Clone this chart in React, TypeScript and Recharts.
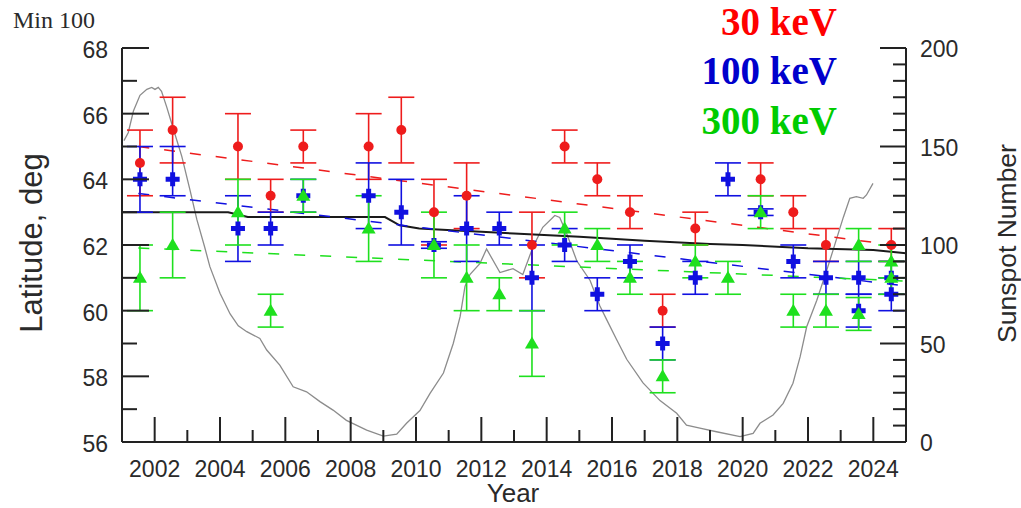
import React from "react";
import { ComposedChart, Line, Scatter, ErrorBar, XAxis, YAxis } from "recharts";

// yearly averages are plotted a bit past the start of each year
const MID = 0.55;

// ---- 30 keV ----
const years30 = [2001, 2002, 2004, 2005, 2006, 2008, 2009, 2010, 2011, 2013, 2014, 2015, 2016, 2017, 2018, 2020, 2021, 2022, 2024];
const lat30 = [64.5, 65.5, 65, 63.5, 65, 65, 65.5, 63, 63.5, 62, 65, 64, 63, 60, 62.5, 64, 63, 62, 62];
const err30 = [1, 1, 1, 0.5, 0.5, 1, 1, 1, 1, 1, 0.5, 0.5, 0.5, 0.5, 0.5, 0.5, 0.5, 0.5, 0.5];

// ---- 100 keV ----
const years100 = [2001, 2002, 2004, 2005, 2006, 2008, 2009, 2010, 2011, 2012, 2013, 2014, 2015, 2016, 2017, 2018, 2019, 2020, 2021, 2022, 2023, 2023, 2024, 2024];
const lat100 = [64, 64, 62.5, 62.5, 63.5, 63.5, 63, 62, 62.5, 62.5, 61, 62, 60.5, 61.5, 59, 61, 64, 63, 61.5, 61, 61, 60, 61, 60.5];
const err100: (number | number[])[] = [1, [0.5, 1], 1, 0.5, 0.5, 1, 1, 0.1, 1, 0.5, 1, 0.5, 0.5, 0.5, 0.5, 0.5, 0.5, 0.1, 0.5, 0.5, 0.5, 0.5, 0.5, 0.5];

// ---- 300 keV ----
const years300 = [2001, 2002, 2004, 2005, 2006, 2008, 2010, 2011, 2012, 2013, 2014, 2015, 2016, 2017, 2018, 2019, 2020, 2021, 2022, 2023, 2023, 2024, 2024];
const lat300 = [61, 62, 63, 60, 63.5, 62.5, 62, 61, 60.5, 59, 62.5, 62, 61, 58, 61.5, 61, 63, 60, 60, 62, 59.9, 61.5, 61];
const err300 = [1, 1, 1, 0.5, 0.5, 1, 1, 1, 0.5, 1, 0.5, 0.5, 0.5, 0.5, 0.5, 0.5, 0.5, 0.5, 0.5, 0.5, 0.5, 0.5, 0.5];

// linear trends (dashed)
const trendYears = [2001.5, 2025];
const trend30 = [65.0, 61.95];
const trend100 = [63.57, 60.75];
const trend300 = [61.91, 60.9];

// solid black mean line
const meanYears = [2001, 2004.25, 2004.85, 2009.05, 2009.5, 2010.1, 2011.1, 2012, 2013, 2015, 2017, 2019, 2020, 2022, 2024, 2025];
const meanLat = [63.0, 63.0, 62.85, 62.85, 62.6, 62.5, 62.45, 62.4, 62.35, 62.25, 62.13, 62.03, 62.0, 61.9, 61.85, 61.75];

// smoothed sunspot number (right axis)
const sunYears = [
  2001.06, 2001.19, 2001.35, 2001.55, 2001.76, 2001.91, 2002.01, 2002.11, 2002.21, 2002.37,
  2002.57, 2002.83, 2003.08, 2003.29, 2003.53, 2003.69, 2004.0, 2004.31, 2004.56, 2004.82,
  2005.22, 2005.43, 2005.83, 2006.24, 2006.65, 2007.06, 2007.46, 2007.87, 2008.49, 2009.0,
  2009.41, 2009.71, 2010.12, 2010.43, 2010.84, 2011.14, 2011.35, 2011.5, 2011.65, 2011.96,
  2012.16, 2012.57, 2012.97, 2013.27, 2013.58, 2013.88, 2014.25, 2014.4, 2014.61, 2014.92,
  2015.33, 2015.63, 2015.84, 2016.14, 2016.45, 2016.95, 2017.47, 2017.98, 2018.28, 2018.69,
  2019.2, 2019.92, 2020.32, 2020.53, 2020.93, 2021.24, 2021.54, 2021.76, 2021.96, 2022.27,
  2022.57, 2022.77, 2023.08, 2023.28, 2023.48, 2023.69, 2023.79, 2023.99,
];
const sunValues = [
  153, 157, 168, 176, 179, 180, 179, 180, 178, 170,
  159, 145, 128, 113, 99, 89, 75.5, 65, 59, 56,
  52.6, 46.7, 39, 28, 25.5, 20.5, 16.2, 11, 6, 3,
  4, 9.5, 16, 24.7, 35, 50, 63.6, 79, 85, 90.7,
  98, 86, 88, 85, 99, 109, 115, 114, 106, 92,
  82, 69, 62, 52, 42, 30, 21, 14.6, 8.6, 7,
  5.2, 2.7, 4.4, 9.5, 13.7, 19.6, 29.8, 43.3, 58.5, 72,
  87, 97.5, 114, 123.7, 124.5, 123.7, 125.4, 131.3,
];

// ticks
const xTicks = [2001, 2002, 2003, 2004, 2005, 2006, 2007, 2008, 2009, 2010, 2011, 2012, 2013, 2014, 2015, 2016, 2017, 2018, 2019, 2020, 2021, 2022, 2023, 2024, 2025];
const xLabels = [2002, 2004, 2006, 2008, 2010, 2012, 2014, 2016, 2018, 2020, 2022, 2024];
const latTicks = [56, 57, 58, 59, 60, 61, 62, 63, 64, 65, 66, 67, 68];
const latLabels = [56, 58, 60, 62, 64, 66, 68];
const ssnTicks = [0, 8.33, 16.67, 25, 33.33, 41.67, 50, 58.33, 66.67, 75, 83.33, 91.67, 100, 108.33, 116.67, 125, 133.33, 141.67, 150, 158.33, 166.67, 175, 183.33, 191.67, 200];
const ssnLabels = [0, 50, 100, 150, 200];

const RED = "#ee1c1c";
const BLUE = "#1010e0";
const GREEN = "#1ee01e";
const AXIS = "#222";
const TXT = "#2a2a2a";
const SANS = "'Liberation Sans', Arial, sans-serif";
const SERIF = "'Liberation Serif', 'Times New Roman', serif";

const points = (ys: number[], vals: number[], errs: any[]) =>
  ys.map((yr, i) => ({ x: yr + MID, y: vals[i], err: errs[i] }));
const line = (xs: number[], vals: number[]) => xs.map((x, i) => ({ x, y: vals[i] }));

const d30 = points(years30, lat30, err30);
const d100 = points(years100, lat100, err100);
const d300 = points(years300, lat300, err300);
const sunData = sunYears.map((x, i) => ({ x, ssn: sunValues[i] }));

function XTick({ x, y, payload }: any) {
  const major = xLabels.includes(payload.value);
  return (
    <g>
      <line x1={x} y1={y} x2={x} y2={y - (major ? 25 : 12)} stroke={AXIS} strokeWidth={2} />
      {major && (
        <text x={x} y={y + 35} textAnchor="middle" fontSize={23} fontFamily={SANS} fill={TXT}>
          {payload.value}
        </text>
      )}
    </g>
  );
}

function LeftTick({ x, y, payload }: any) {
  const major = latLabels.includes(payload.value);
  return (
    <g>
      <line x1={x} y1={y} x2={x + (major ? 27 : 15)} y2={y} stroke={AXIS} strokeWidth={2} />
      {major && (
        <text x={x - 14} y={y + 10} textAnchor="end" fontSize={23} fontFamily={SANS} fill={TXT}>
          {payload.value}
        </text>
      )}
    </g>
  );
}

function RightTick({ x, y, payload }: any) {
  const major = ssnLabels.includes(payload.value);
  return (
    <g>
      <line x1={x - (major ? 26 : 13)} y1={y} x2={x} y2={y} stroke={AXIS} strokeWidth={2} />
      {major && (
        <text x={x + 14} y={y + 9} textAnchor="start" fontSize={23} fontFamily={SANS} fill={TXT}>
          {payload.value}
        </text>
      )}
    </g>
  );
}

const Dot = ({ cx, cy }: any) => <circle cx={cx} cy={cy} r={5} fill={RED} />;
const Cross = ({ cx, cy }: any) => (
  <path
    d={`M${cx - 2.5},${cy - 7}h5v4.5h4.5v5h-4.5v4.5h-5v-4.5h-4.5v-5h4.5Z`}
    fill={BLUE}
  />
);
const Tri = ({ cx, cy }: any) => (
  <path d={`M${cx},${cy - 7}L${cx + 7},${cy + 5}L${cx - 7},${cy + 5}Z`} fill={GREEN} />
);

export default function App() {
  return (
    <div style={{ position: "absolute", left: 0, top: 0, width: 1021, height: 508, background: "#fff" }}>
      <ComposedChart width={1021} height={508} margin={{ top: 48, right: 0, bottom: 0, left: 0 }}>
        <XAxis
          dataKey="x"
          type="number"
          domain={[2001, 2025]}
          ticks={xTicks}
          interval={0}
          allowDataOverflow
          height={66}
          tickSize={0}
          tickMargin={0}
          tick={<XTick />}
          axisLine={{ stroke: AXIS, strokeWidth: 2 }}
        />
        <YAxis
          yAxisId="left"
          type="number"
          domain={[56, 68]}
          ticks={latTicks}
          interval={0}
          allowDataOverflow
          width={122}
          tickSize={0}
          tickMargin={0}
          tick={<LeftTick />}
          axisLine={{ stroke: AXIS, strokeWidth: 2 }}
        />
        <YAxis
          yAxisId="right"
          orientation="right"
          type="number"
          domain={[0, 200]}
          ticks={ssnTicks}
          interval={0}
          allowDataOverflow
          width={115}
          tickSize={0}
          tickMargin={0}
          tick={<RightTick />}
          axisLine={{ stroke: AXIS, strokeWidth: 2 }}
        />

        <Line data={sunData} dataKey="ssn" yAxisId="right" type="linear" stroke="#8c8c8c" strokeWidth={1.3} dot={false} isAnimationActive={false} />
        <Line data={line(meanYears, meanLat)} dataKey="y" yAxisId="left" type="linear" stroke="#1a1a1a" strokeWidth={2} dot={false} isAnimationActive={false} />
        <Line data={line(trendYears, trend30)} dataKey="y" yAxisId="left" type="linear" stroke={RED} strokeWidth={1.5} strokeDasharray="11 15" dot={false} isAnimationActive={false} />
        <Line data={line(trendYears, trend100)} dataKey="y" yAxisId="left" type="linear" stroke={BLUE} strokeWidth={1.5} strokeDasharray="11 15" dot={false} isAnimationActive={false} />
        <Line data={line(trendYears, trend300)} dataKey="y" yAxisId="left" type="linear" stroke={GREEN} strokeWidth={1.5} strokeDasharray="11 15" dot={false} isAnimationActive={false} />

        <Scatter data={d30} dataKey="y" yAxisId="left" shape={<Dot />} isAnimationActive={false}>
          <ErrorBar dataKey="err" direction="y" width={13} stroke={RED} strokeWidth={1.6} />
        </Scatter>
        <Scatter data={d100} dataKey="y" yAxisId="left" shape={<Cross />} isAnimationActive={false}>
          <ErrorBar dataKey="err" direction="y" width={13} stroke={BLUE} strokeWidth={1.6} />
        </Scatter>
        <Scatter data={d300} dataKey="y" yAxisId="left" shape={<Tri />} isAnimationActive={false}>
          <ErrorBar dataKey="err" direction="y" width={13} stroke={GREEN} strokeWidth={1.6} />
        </Scatter>
      </ComposedChart>

      <svg width={1021} height={508} style={{ position: "absolute", left: 0, top: 0, pointerEvents: "none" }}>
        <text x={13} y={28} fontSize={24} fontFamily={SERIF} fill={TXT}>Min 100</text>
        <text x={837} y={35} textAnchor="end" fontSize={39} fontWeight="bold" fontFamily={SERIF} fill="#ff0000">30 keV</text>
        <text x={837} y={84} textAnchor="end" fontSize={39} fontWeight="bold" fontFamily={SERIF} fill="#0000cc">100 keV</text>
        <text x={837} y={134} textAnchor="end" fontSize={39} fontWeight="bold" fontFamily={SERIF} fill="#00cc00">300 keV</text>
        <text transform="translate(42,243) rotate(-90)" textAnchor="middle" fontSize={31} fontFamily={SANS} fill={TXT}>Latitude, deg</text>
        <text transform="translate(1016,243.5) rotate(-90)" textAnchor="middle" fontSize={26.5} fontFamily={SANS} fill={TXT}>Sunspot Number</text>
        <text x={513} y={502} textAnchor="middle" fontSize={26} fontFamily={SANS} fill={TXT}>Year</text>
      </svg>
    </div>
  );
}
